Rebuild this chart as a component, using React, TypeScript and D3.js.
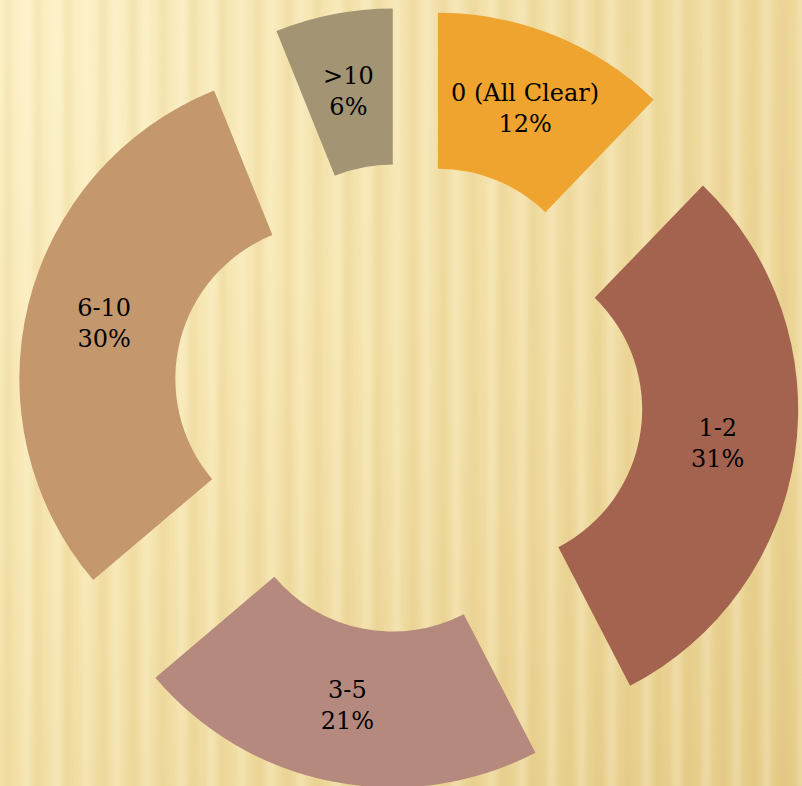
import * as d3 from "d3";

const categories = ["0 (All Clear)", "1-2", "3-5", "6-10", ">10"];
const shares = [12.2, 30.2, 21.4, 30.1, 6.1];
const pctLabels = ["12%", "31%", "21%", "30%", "6%"];
const sliceColors = ["#EFA42F", "#A3634F", "#B5897E", "#C4976D", "#A39474"];

const width = 802;
const height = 786;
const cx = 408;
const cy = 398;
const innerR = 155;
const outerR = 311;
const explode = 80;

export default function App() {
  const pie = d3
    .pie<number>()
    .sort(null)
    .value((d) => d)
    .startAngle(0)
    .endAngle(2 * Math.PI);
  const arcs = pie(shares);
  const arc = d3
    .arc<d3.PieArcDatum<number>>()
    .innerRadius(innerR)
    .outerRadius(outerR);

  // background stripes, decoration only
  const stripes = d3.range(-10, width + 20, 15.5);

  return (
    <svg
      width={width}
      height={height}
      style={{ position: "absolute", left: 0, top: 0 }}
    >
      <defs>
        <linearGradient id="bg" x1="0" y1="0" x2="1" y2="1">
          <stop offset="0" stopColor="#FDF2C8" />
          <stop offset="0.45" stopColor="#F4E2AA" />
          <stop offset="1" stopColor="#E4CA86" />
        </linearGradient>
        <linearGradient id="bg2" x1="1" y1="0" x2="0" y2="1">
          <stop offset="0" stopColor="#E8CF8C" stopOpacity="0.5" />
          <stop offset="0.5" stopColor="#E8CF8C" stopOpacity="0" />
        </linearGradient>
        <filter id="blur" x="-0.1" y="-0.1" width="1.2" height="1.2">
          <feGaussianBlur stdDeviation="3" />
        </filter>
      </defs>
      <rect width={width} height={height} fill="url(#bg)" />
      <rect width={width} height={height} fill="url(#bg2)" />
      <g filter="url(#blur)">
        {stripes.map((x, i) => (
          <rect
            key={i}
            x={x + ((i * 7) % 5) - 2}
            y={-10}
            width={i % 2 ? 5 : 7}
            height={height + 20}
            fill={i % 2 ? "#D9BC70" : "#FFF8DC"}
            opacity={i % 2 ? 0.3 : 0.38}
          />
        ))}
      </g>
      <g transform={`translate(${cx},${cy})`}>
        {arcs.map((a, i) => {
          const mid = (a.startAngle + a.endAngle) / 2;
          const ox = explode * Math.sin(mid);
          const oy = -explode * Math.cos(mid);
          const rm = (innerR + outerR) / 2;
          const lx = ox + rm * Math.sin(mid);
          const ly = oy - rm * Math.cos(mid);
          return (
            <g key={categories[i]}>
              <path
                d={arc(a) as string}
                transform={`translate(${ox},${oy})`}
                fill={sliceColors[i]}
              />
              <text
                x={lx}
                y={ly}
                textAnchor="middle"
                fontFamily="'DejaVu Serif', serif"
                fontSize={24}
                fill="#000"
              >
                <tspan x={lx} dy={-7}>
                  {categories[i]}
                </tspan>
                <tspan x={lx} dy={31}>
                  {pctLabels[i]}
                </tspan>
              </text>
            </g>
          );
        })}
      </g>
    </svg>
  );
}
